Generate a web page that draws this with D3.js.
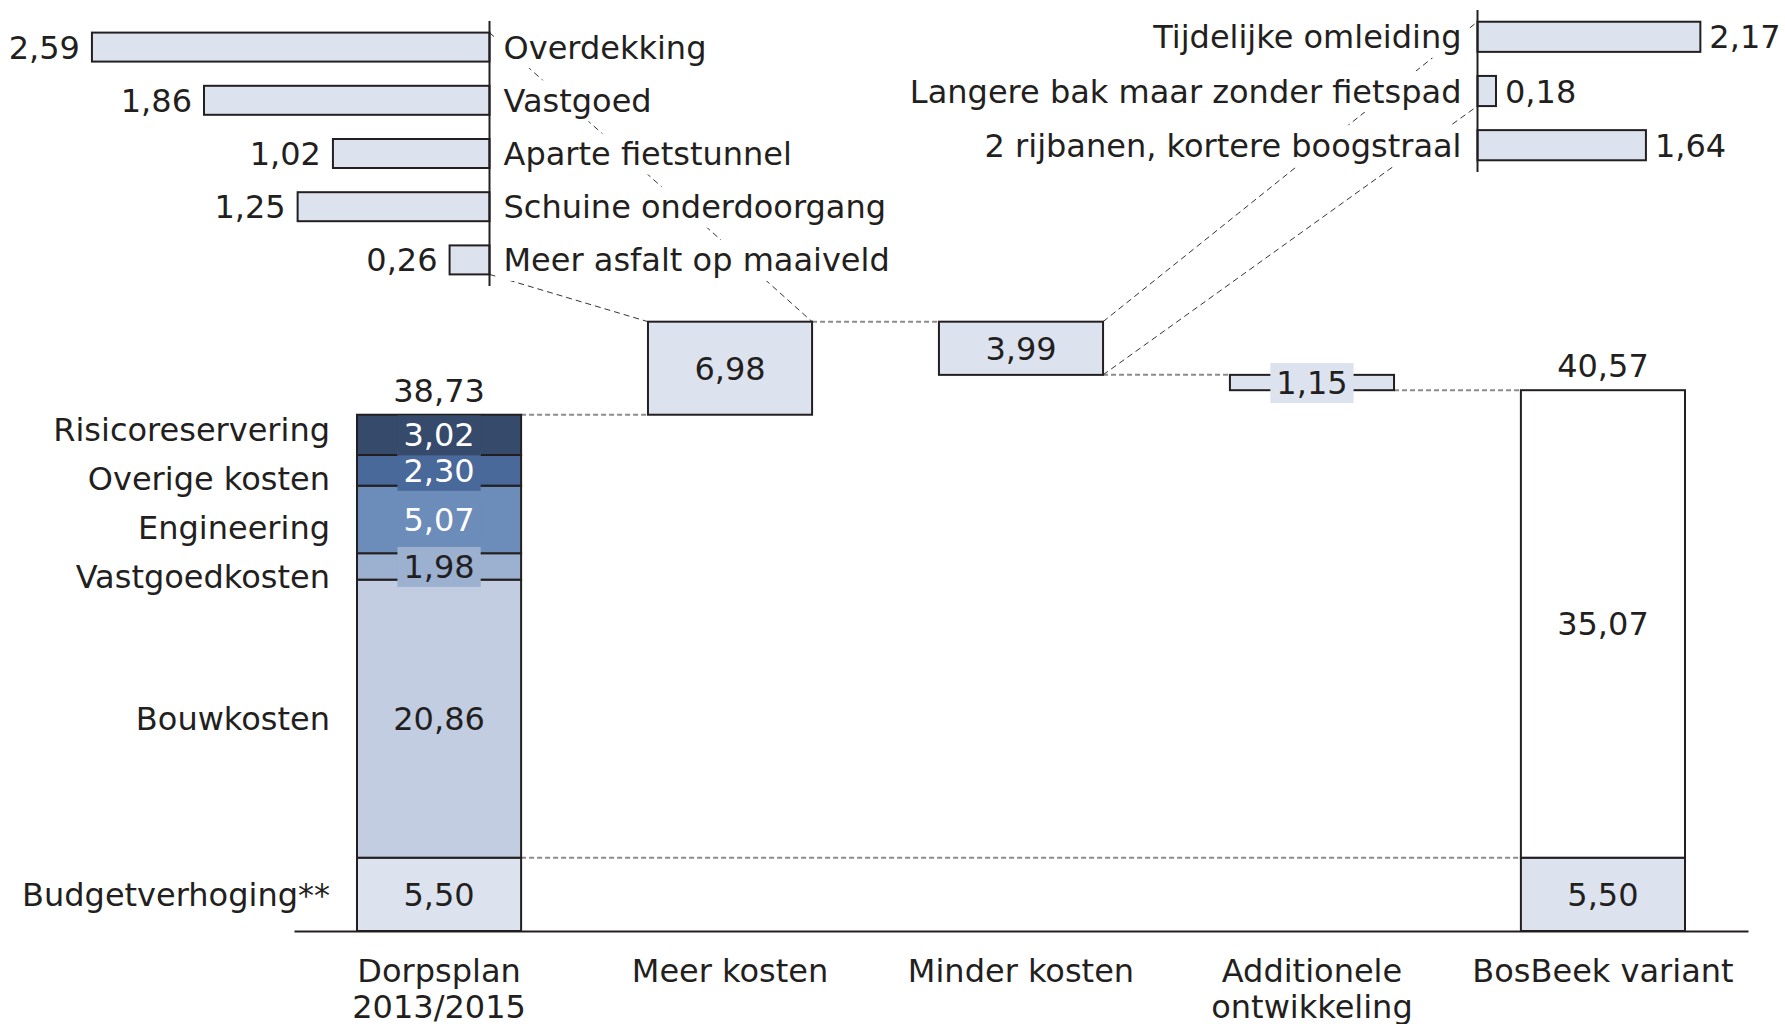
<!DOCTYPE html>
<html>
<head>
<meta charset="utf-8">
<script src="https://cdn.jsdelivr.net/npm/d3@7"></script>
<style>
  body { margin: 0; background: #fff; }
  svg { display: block; }
  text { font-family: "DejaVu Sans", Verdana, sans-serif; }
</style>
</head>
<body>
<svg id="chart" width="1785" height="1024"></svg>
<script>
// ---------------- DATA ----------------
const categories = ["Dorpsplan 2013/2015", "Meer kosten", "Minder kosten", "Additionele ontwikkeling", "BosBeek variant"];
const categoryLines = [["Dorpsplan", "2013/2015"], ["Meer kosten"], ["Minder kosten"], ["Additionele", "ontwikkeling"], ["BosBeek variant"]];

const stackNames  = ["Budgetverhoging**", "Bouwkosten", "Vastgoedkosten", "Engineering", "Overige kosten", "Risicoreservering"];
const stackValues = [5.50, 20.86, 1.98, 5.07, 2.30, 3.02];

const deltaValues = [6.98, -3.99, -1.15];          // Meer kosten, Minder kosten, Additionele ontwikkeling
const finalParts  = [5.50, 35.07];                  // BosBeek variant: budgetverhoging + rest

const moreNames  = ["Overdekking", "Vastgoed", "Aparte fietstunnel", "Schuine onderdoorgang", "Meer asfalt op maaiveld"];
const moreValues = [2.59, 1.86, 1.02, 1.25, 0.26];

const lessNames  = ["Tijdelijke omleiding", "Langere bak maar zonder fietspad", "2 rijbanen, kortere boogstraal"];
const lessValues = [2.17, 0.18, 1.64];

// ---------------- STYLE ----------------
const INK = "#231f20";
const LIGHT = "#dde3ee";
const stackColors = ["#dde3ee", "#c2cde1", "#9cb0d0", "#6c8cb9", "#4a699b", "#364b6b"];
const stackTextColors = [INK, INK, INK, "#ffffff", "#ffffff", "#ffffff"];
const finalColors = [LIGHT, "#ffffff"];
const FS = 32;
const CAP = "0.36em";

const fmt = d3.formatLocale({decimal: ",", thousands: ".", grouping: [3], currency: ["€", ""]}).format(".2f");

const svg = d3.select("#chart");

// ---------------- SCALES ----------------
const x = d3.scaleBand().domain(categories).range([294, 1748]).paddingInner(0.436).paddingOuter(0.2165);
const bw = x.bandwidth();
const y = d3.scaleLinear().domain([0, 50]).range([931, 931 - 50 * 13.33]);

const xL = d3.scaleLinear().domain([0, 1]).range([489.5, 489.5 - 153.5]);
const yL = d3.scaleBand().domain(moreNames).range([21, 286]).paddingInner(0.455).paddingOuter(0.218);
const xR = d3.scaleLinear().domain([0, 1]).range([1477.5, 1477.5 + 102.7]);
const yR = d3.scaleBand().domain(lessNames).range([10, 172]).paddingInner(0.444).paddingOuter(0.2165);

// ---------------- DERIVED ----------------
let cum = 0;
const stack = stackValues.map((v, i) => {
  const s = {name: stackNames[i], v, y0: cum, y1: cum + v, color: stackColors[i], tc: stackTextColors[i]};
  cum += v; return s;
});
const startTotal = cum;
let level = startTotal;
const steps = deltaValues.map((d, i) => {
  const s = {cat: categories[i + 1], v: d, from: level, to: level + d};
  level += d; return s;
});
const endTotal = level;
let fc = 0;
const finals = finalParts.map((v, i) => { const s = {v, y0: fc, y1: fc + v, color: finalColors[i]}; fc += v; return s; });

// ---------------- LAYERS ----------------
const gConn = svg.append("g");
const gThin = svg.append("g");
const gBreak = svg.append("g");
const gBars = svg.append("g");
const gLabels = svg.append("g");

// gray dashed connectors between waterfall steps
const connectors = [];
connectors.push({x1: x(categories[0]) + bw, x2: x(categories[1]), v: startTotal});
steps.forEach((s, i) => connectors.push({x1: x(categories[i + 1]) + bw, x2: x(categories[i + 2]), v: s.to}));
connectors.push({x1: x(categories[0]) + bw, x2: x(categories[4]), v: finalParts[0]});
gConn.selectAll("line").data(connectors).join("line")
  .attr("x1", d => d.x1).attr("x2", d => d.x2)
  .attr("y1", d => y(d.v)).attr("y2", d => y(d.v))
  .attr("stroke", "#8c8c8c").attr("stroke-width", 2).attr("stroke-dasharray", "5,3");

// thin dashed lines from breakdowns to their boxes
const meer = steps[0], minder = steps[1];
const thin = [
  {x1: xL(0), y1: yL(moreNames[0]), x2: x(meer.cat) + bw, y2: y(meer.to)},
  {x1: xL(0), y1: yL(moreNames[moreNames.length - 1]) + yL.bandwidth(), x2: x(meer.cat), y2: y(meer.to)},
  {x1: x(minder.cat) + bw, y1: y(minder.from), x2: xR(0), y2: yR(lessNames[0])},
  {x1: x(minder.cat) + bw, y1: y(minder.to), x2: xR(0), y2: yR(lessNames[1]) + yR.bandwidth()}
];
gThin.selectAll("line").data(thin).join("line")
  .attr("x1", d => d.x1).attr("y1", d => d.y1).attr("x2", d => d.x2).attr("y2", d => d.y2)
  .attr("stroke", "#333").attr("stroke-width", 1).attr("stroke-dasharray", "6,4");

// helper: text with background box
function labelWithBox(g, d) {
  const grp = g.append("g");
  const rect = grp.append("rect").attr("fill", d.bg);
  const t = grp.append("text").attr("x", d.x).attr("y", d.y).attr("dy", CAP)
    .attr("text-anchor", d.anchor || "middle").attr("font-size", FS).attr("fill", d.color || INK).text(d.text);
  const bb = t.node().getBBox();
  const px = d.padX == null ? 6 : d.padX, py = d.padY == null ? 1 : d.padY;
  rect.attr("x", bb.x - px).attr("y", bb.y - py).attr("width", bb.width + 2 * px).attr("height", bb.height + 2 * py);
}

// ---------------- LEFT BREAKDOWN (Meer kosten) ----------------
moreNames.forEach((n, i) => {
  labelWithBox(gBreak, {x: xL(0) + 14, y: yL(n) + yL.bandwidth() / 2, text: n, anchor: "start", bg: "#fff", padX: 7, padY: 1.5});
});
gBreak.selectAll("rect.bl").data(moreNames).join("rect").attr("class", "bl")
  .attr("x", (d, i) => xL(moreValues[i])).attr("y", d => yL(d))
  .attr("width", (d, i) => xL(0) - xL(moreValues[i])).attr("height", yL.bandwidth())
  .attr("fill", LIGHT).attr("stroke", INK).attr("stroke-width", 2);
gBreak.selectAll("text.bv").data(moreNames).join("text").attr("class", "bv")
  .attr("x", (d, i) => xL(moreValues[i]) - 12).attr("y", d => yL(d) + yL.bandwidth() / 2).attr("dy", CAP)
  .attr("text-anchor", "end").attr("font-size", FS).attr("fill", INK)
  .text((d, i) => fmt(moreValues[i]));
gBreak.append("line").attr("x1", xL(0)).attr("x2", xL(0)).attr("y1", yL.range()[0]).attr("y2", yL.range()[1])
  .attr("stroke", INK).attr("stroke-width", 2);

// ---------------- RIGHT BREAKDOWN (Minder kosten) ----------------
lessNames.forEach((n, i) => {
  labelWithBox(gBreak, {x: xR(0) - 16, y: yR(n) + yR.bandwidth() / 2, text: n, anchor: "end", bg: "#fff", padX: 7, padY: 1.5});
});
gBreak.selectAll("rect.br").data(lessNames).join("rect").attr("class", "br")
  .attr("x", xR(0)).attr("y", d => yR(d))
  .attr("width", (d, i) => xR(lessValues[i]) - xR(0)).attr("height", yR.bandwidth())
  .attr("fill", LIGHT).attr("stroke", INK).attr("stroke-width", 2);
gBreak.selectAll("text.rv").data(lessNames).join("text").attr("class", "rv")
  .attr("x", (d, i) => xR(lessValues[i]) + 9).attr("y", d => yR(d) + yR.bandwidth() / 2).attr("dy", CAP)
  .attr("text-anchor", "start").attr("font-size", FS).attr("fill", INK)
  .text((d, i) => fmt(lessValues[i]));
gBreak.append("line").attr("x1", xR(0)).attr("x2", xR(0)).attr("y1", yR.range()[0]).attr("y2", yR.range()[1])
  .attr("stroke", INK).attr("stroke-width", 2);

// ---------------- MAIN BARS ----------------
const c0 = categories[0], c4 = categories[4];
gBars.selectAll("rect.st").data(stack).join("rect").attr("class", "st")
  .attr("x", x(c0)).attr("width", bw)
  .attr("y", d => y(d.y1)).attr("height", d => y(d.y0) - y(d.y1))
  .attr("fill", d => d.color).attr("stroke", INK).attr("stroke-width", 2);
gBars.selectAll("rect.step").data(steps).join("rect").attr("class", "step")
  .attr("x", d => x(d.cat)).attr("width", bw)
  .attr("y", d => y(Math.max(d.from, d.to))).attr("height", d => Math.abs(y(d.from) - y(d.to)))
  .attr("fill", LIGHT).attr("stroke", INK).attr("stroke-width", 2);
gBars.selectAll("rect.fin").data(finals).join("rect").attr("class", "fin")
  .attr("x", x(c4)).attr("width", bw)
  .attr("y", d => y(d.y1)).attr("height", d => y(d.y0) - y(d.y1))
  .attr("fill", d => d.color).attr("stroke", INK).attr("stroke-width", 2);

// ---------------- VALUE LABELS ----------------
stack.forEach(s => labelWithBox(gLabels, {x: x(c0) + bw / 2, y: (y(s.y0) + y(s.y1)) / 2, text: fmt(s.v), bg: s.color, color: s.tc}));
steps.forEach(s => labelWithBox(gLabels, {x: x(s.cat) + bw / 2, y: (y(s.from) + y(s.to)) / 2, text: fmt(Math.abs(s.v)), bg: LIGHT}));
finals.forEach(s => labelWithBox(gLabels, {x: x(c4) + bw / 2, y: (y(s.y0) + y(s.y1)) / 2, text: fmt(s.v), bg: s.color}));

gLabels.selectAll("text.tot").data([{c: c0, v: startTotal}, {c: c4, v: endTotal}]).join("text").attr("class", "tot")
  .attr("x", d => x(d.c) + bw / 2).attr("y", d => y(d.v) - 13)
  .attr("text-anchor", "middle").attr("font-size", FS).attr("fill", INK).text(d => fmt(d.v));

// stack category labels, spread to avoid overlap (balanced between symmetric and top-down spreading)
const MINGAP = 49;
const centers = stack.map(s => (y(s.y0) + y(s.y1)) / 2);
function symSpread(arr) {
  const a = arr.map((v, i) => ({i, y: v}));
  for (let it = 0; it < 300; it++) {
    a.sort((p, q) => p.y - q.y);
    let moved = false;
    for (let k = 1; k < a.length; k++) {
      const ov = MINGAP - (a[k].y - a[k - 1].y);
      if (ov > 0.01) { a[k].y += ov / 2; a[k - 1].y -= ov / 2; moved = true; }
    }
    if (!moved) break;
  }
  const out = []; a.forEach(p => out[p.i] = p.y); return out;
}
function downSpread(arr) {
  const idx = arr.map((v, i) => i).sort((p, q) => arr[p] - arr[q]);
  const out = arr.slice();
  for (let k = 1; k < idx.length; k++) out[idx[k]] = Math.max(out[idx[k]], out[idx[k - 1]] + MINGAP);
  return out;
}
const sA = symSpread(centers), sB = downSpread(centers);
const lab = stack.map((s, i) => ({name: s.name, y: (sA[i] + sB[i]) / 2}));
gLabels.selectAll("text.sn").data(lab).join("text").attr("class", "sn")
  .attr("x", x(c0) - 27).attr("y", d => d.y).attr("dy", CAP)
  .attr("text-anchor", "end").attr("font-size", FS).attr("fill", INK).text(d => d.name);

// ---------------- X AXIS ----------------
const axis = svg.append("g").attr("transform", `translate(0,${y(0)})`)
  .call(d3.axisBottom(x).tickSize(0).tickSizeOuter(0).tickFormat(""));
axis.select(".domain").attr("stroke", INK).attr("stroke-width", 2);
categories.forEach((c, i) => {
  const t = svg.append("text").attr("x", x(c) + bw / 2).attr("y", y(0) + 50.5)
    .attr("text-anchor", "middle").attr("font-size", FS).attr("fill", INK);
  categoryLines[i].forEach((ln, j) => t.append("tspan").attr("x", x(c) + bw / 2).attr("dy", j === 0 ? 0 : 36).text(ln));
});
</script>
</body>
</html>
